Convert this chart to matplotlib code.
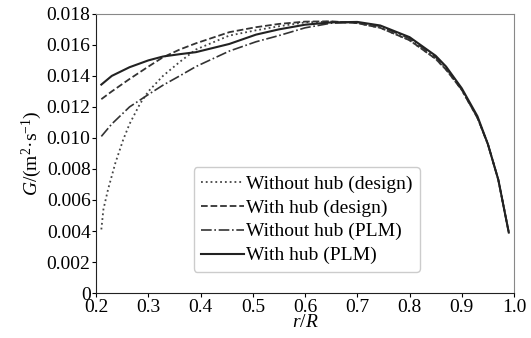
import matplotlib.pyplot as plt

plt.rcParams['font.family'] = ['Liberation Serif', 'DejaVu Serif']
plt.rcParams['mathtext.fontset'] = 'custom'
plt.rcParams['mathtext.rm'] = 'Liberation Serif'
plt.rcParams['mathtext.it'] = 'Liberation Serif:italic'

r_design = [0.21, 0.214, 0.223, 0.237, 0.252, 0.264, 0.284, 0.30, 0.328, 0.36, 0.391, 0.455, 0.506,
            0.55, 0.60, 0.65, 0.70, 0.744, 0.80, 0.85, 0.87, 0.90, 0.93, 0.95, 0.97, 0.99]
g_nohub_design = [0.0041, 0.0054, 0.0067, 0.0084, 0.0099, 0.0109, 0.0122, 0.0130, 0.0140, 0.0149,
                  0.0157, 0.0166, 0.01694, 0.0172, 0.01745, 0.0175, 0.0174, 0.0171, 0.0163, 0.0151,
                  0.0144, 0.0131, 0.0113, 0.0096, 0.0073, 0.0039]

r = [0.21, 0.23, 0.264, 0.30, 0.328, 0.36, 0.391, 0.455, 0.506, 0.55, 0.60, 0.65, 0.70, 0.744,
     0.80, 0.85, 0.87, 0.90, 0.93, 0.95, 0.97, 0.99]
g_hub_design = [0.0125, 0.0130, 0.0138, 0.0146, 0.0152, 0.0157, 0.0161, 0.01682, 0.01714, 0.01735,
                0.0175, 0.01752, 0.0174, 0.0171, 0.0163, 0.0151, 0.0144, 0.0131, 0.0113, 0.0096,
                0.0073, 0.0039]
g_nohub_plm = [0.0101, 0.0109, 0.0120, 0.0128, 0.0134, 0.0140, 0.0146, 0.0156, 0.0162, 0.0166,
               0.0171, 0.0174, 0.01745, 0.0172, 0.0164, 0.0152, 0.0145, 0.0131, 0.0113, 0.0096,
               0.0073, 0.0039]
g_hub_plm = [0.01344, 0.0140, 0.01456, 0.0150, 0.01525, 0.0154, 0.01553, 0.01606, 0.01666, 0.0170,
             0.0173, 0.01745, 0.01748, 0.01725, 0.0165, 0.0153, 0.0146, 0.0132, 0.0114, 0.0096,
             0.0073, 0.0039]

fig = plt.figure(figsize=(5.31, 3.38), dpi=100)
ax = fig.add_axes([0.181, 0.133, 0.787, 0.826])

ax.plot(r_design, g_nohub_design, linestyle=':', color='#444444', linewidth=1.3, label='Without hub (design)')
ax.plot(r, g_hub_design, linestyle='--', color='#333333', linewidth=1.3, label='With hub (design)')
ax.plot(r, g_nohub_plm, linestyle='-.', color='#333333', linewidth=1.2, label='Without hub (PLM)')
ax.plot(r, g_hub_plm, linestyle='-', color='#222222', linewidth=1.5, label='With hub (PLM)')

ax.set_xlim(0.2, 1.0)
ax.set_ylim(0, 0.018)
ax.set_xticks([0.2, 0.3, 0.4, 0.5, 0.6, 0.7, 0.8, 0.9, 1.0])
ax.set_yticks([0, 0.002, 0.004, 0.006, 0.008, 0.010, 0.012, 0.014, 0.016, 0.018])
ax.set_yticklabels(['0', '0.002', '0.004', '0.006', '0.008', '0.010', '0.012', '0.014', '0.016', '0.018'])
ax.tick_params(labelsize=14, length=3, width=0.8, pad=1)

for s in ['left', 'bottom']:
    ax.spines[s].set_color('#222222')
for s in ['top', 'right']:
    ax.spines[s].set_color('#888888')

ax.set_xlabel(r'$r$/$R$', fontsize=14, labelpad=-1)
ax.set_ylabel(r'$G$/(m$^2$·s$^{-1}$)', fontsize=14, labelpad=2)

ax.legend(loc='lower left', bbox_to_anchor=(0.21, 0.04), fontsize=14, handlelength=2.2,
          handletextpad=0.1, labelspacing=0.32, borderpad=0.4, framealpha=1, edgecolor='#cccccc')

plt.savefig('out.png', dpi=100)
plt.close()
